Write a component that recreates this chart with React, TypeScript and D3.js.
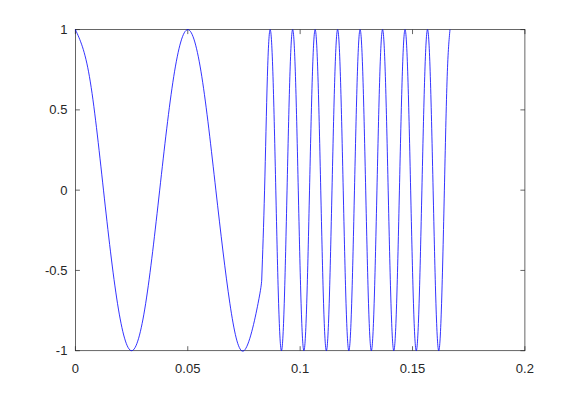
import React from 'react';
import * as d3 from 'd3';

const xTicks = [0, 0.05, 0.1, 0.15, 0.2];
const xTickLabels = ['0', '0.05', '0.1', '0.15', '0.2'];
const yTicks = [-1, -0.5, 0, 0.5, 1];
const yTickLabels = ['-1', '-0.5', '0', '0.5', '1'];

// slow part (20 Hz): time in seconds, amplitude
const slowT = [0, 0.00625, 0.0125, 0.01875, 0.025, 0.03125, 0.0375, 0.04375, 0.05, 0.05625, 0.0625, 0.06875, 0.075, 0.08125, 0.0829];
const slowY = [1, 0.707, 0, -0.707, -1, -0.707, 0, 0.707, 1, 0.707, 0, -0.707, -1, -0.707, -0.56];

// fast part (100 Hz)
const fastT = [
  0.0829, 0.08417, 0.08542,
  0.08667, 0.08792, 0.08917, 0.09042, 0.09167, 0.09292, 0.09417, 0.09542,
  0.09667, 0.09792, 0.09917, 0.10042, 0.10167, 0.10292, 0.10417, 0.10542,
  0.10667, 0.10792, 0.10917, 0.11042, 0.11167, 0.11292, 0.11417, 0.11542,
  0.11667, 0.11792, 0.11917, 0.12042, 0.12167, 0.12292, 0.12417, 0.12542,
  0.12667, 0.12792, 0.12917, 0.13042, 0.13167, 0.13292, 0.13417, 0.13542,
  0.13667, 0.13792, 0.13917, 0.14042, 0.14167, 0.14292, 0.14417, 0.14542,
  0.14667, 0.14792, 0.14917, 0.15042, 0.15167, 0.15292, 0.15417, 0.15542,
  0.15667, 0.15792, 0.15917, 0.16042, 0.16167, 0.16292, 0.16417, 0.16542,
  0.16667,
];
const fastY = [
  -0.56, 0, 0.707,
  1, 0.707, 0, -0.707, -1, -0.707, 0, 0.707,
  1, 0.707, 0, -0.707, -1, -0.707, 0, 0.707,
  1, 0.707, 0, -0.707, -1, -0.707, 0, 0.707,
  1, 0.707, 0, -0.707, -1, -0.707, 0, 0.707,
  1, 0.707, 0, -0.707, -1, -0.707, 0, 0.707,
  1, 0.707, 0, -0.707, -1, -0.707, 0, 0.707,
  1, 0.707, 0, -0.707, -1, -0.707, 0, 0.707,
  1, 0.707, 0, -0.707, -1, -0.707, 0, 0.707,
  1,
];

const W = 580;
const H = 394;
const left = 75.4;
const right = 524.9;
const top = 29.6;
const bottom = 350.7;
const tickLen = 4.5;
const axisColor = '#262626';
const font = '"Liberation Sans", Arial, Helvetica, sans-serif';

export default function App() {
  const x = d3.scaleLinear().domain([0, 0.2]).range([left, right]);
  const y = d3.scaleLinear().domain([-1, 1]).range([bottom, top]);

  const line = d3
    .line<[number, number]>()
    .x((d) => x(d[0]))
    .y((d) => y(d[1]))
    .curve(d3.curveNatural);

  const slowPts: [number, number][] = slowT.map((t, i) => [t, slowY[i]]);
  const fastPts: [number, number][] = fastT.map((t, i) => [t, fastY[i]]);

  return (
    <svg
      width={W}
      height={H}
      style={{ position: 'absolute', left: 0, top: 0, background: '#fff' }}
    >
      <rect x={0} y={0} width={W} height={H} fill="#fff" />
      <rect
        x={left}
        y={top}
        width={right - left}
        height={bottom - top}
        fill="none"
        stroke={axisColor}
        strokeWidth={0.7}
      />
      {xTicks.map((t, i) => (
        <g key={'x' + i}>
          <line x1={x(t)} x2={x(t)} y1={bottom} y2={bottom - tickLen} stroke={axisColor} strokeWidth={0.7} />
          <line x1={x(t)} x2={x(t)} y1={top} y2={top + tickLen} stroke={axisColor} strokeWidth={0.7} />
          <text
            x={x(t)}
            y={bottom + 22}
            textAnchor="middle"
            fontFamily={font}
            fontSize={13}
            fill={axisColor}
          >
            {xTickLabels[i]}
          </text>
        </g>
      ))}
      {yTicks.map((v, i) => (
        <g key={'y' + i}>
          <line x1={left} x2={left + tickLen} y1={y(v)} y2={y(v)} stroke={axisColor} strokeWidth={0.7} />
          <line x1={right} x2={right - tickLen} y1={y(v)} y2={y(v)} stroke={axisColor} strokeWidth={0.7} />
          <text
            x={left - 8}
            y={y(v)}
            dy="0.35em"
            textAnchor="end"
            fontFamily={font}
            fontSize={13}
            fill={axisColor}
          >
            {yTickLabels[i]}
          </text>
        </g>
      ))}
      <path d={line(slowPts) || ''} fill="none" stroke="#0000ff" strokeWidth={0.8} />
      <path d={line(fastPts) || ''} fill="none" stroke="#0000ff" strokeWidth={0.8} />
    </svg>
  );
}
